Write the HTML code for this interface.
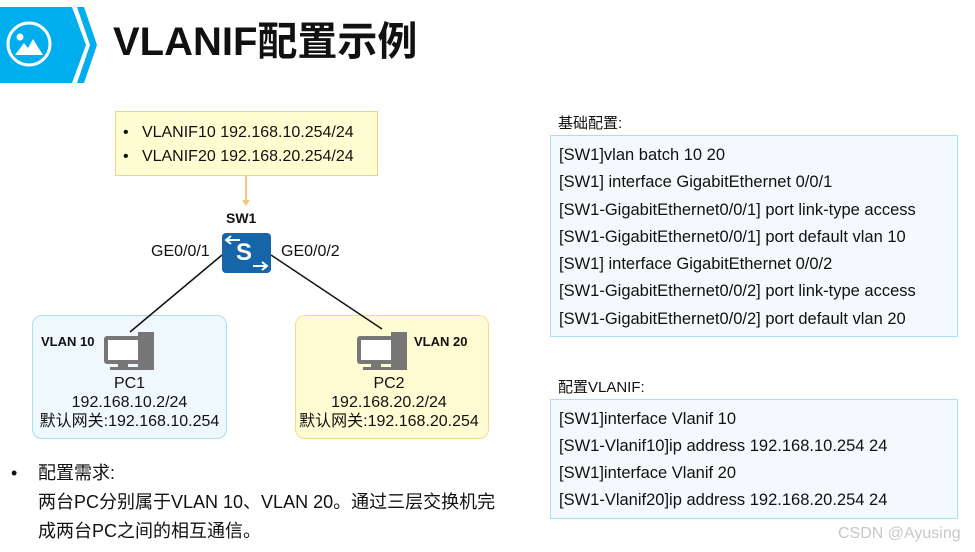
<!DOCTYPE html>
<html><head><meta charset="utf-8"><style>
body{margin:0;width:975px;height:552px;background:#fff;position:relative;overflow:hidden;font-family:"Liberation Sans","Noto Sans CJK SC",sans-serif;color:#111}
.a{position:absolute;white-space:nowrap}
.box{position:absolute;box-sizing:border-box}
.c{font-size:16.5px;line-height:27.3px}
</style></head><body>
<svg class="a" style="left:0;top:0" width="975" height="552">
<polygon points="0,7 72,7 86,45 72,83 0,83" fill="#00aeef"/>
<polygon points="77,7 84,7 97,45 84,83 77,83 90,45" fill="#00aeef"/>
<circle cx="29" cy="44" r="21" fill="none" stroke="#fff" stroke-width="3"/>
<circle cx="20" cy="37" r="3.5" fill="#fff"/>
<polygon points="15,55 24,43 28,48 33,39 43,55" fill="#fff"/>
<line x1="246" y1="176" x2="246" y2="202" stroke="#f9c77a" stroke-width="2"/>
<polygon points="242,200 250,200 246,206" fill="#f9c77a"/>
</svg>
<div class="a" style="left:113px;top:17px;font-size:40px;font-weight:bold;line-height:50px">VLANIF配置示例</div>
<div class="box" style="left:115px;top:111px;width:263px;height:65px;background:#fffdd2;border:1px solid #f6cf85"></div>
<div class="a" style="left:123px;top:121px;font-size:16px;line-height:24px">•&nbsp;&nbsp;&nbsp;VLANIF10 192.168.10.254/24<br>•&nbsp;&nbsp;&nbsp;VLANIF20 192.168.20.254/24</div>
<div class="a" style="left:226px;top:210px;font-size:14px;font-weight:bold">SW1</div>
<div class="a" style="left:151px;top:243px;font-size:16px">GE0/0/1</div>
<div class="a" style="left:281px;top:243px;font-size:16px">GE0/0/2</div>
<div class="box" style="left:32px;top:315px;width:195px;height:124px;background:#eef8fd;border:1px solid #a8dff3;border-radius:10px"></div>
<div class="box" style="left:295px;top:315px;width:194px;height:124px;background:#fffbd2;border:1px solid #f6d98e;border-radius:10px"></div>
<svg class="a" style="left:0;top:0" width="500" height="400">
<line x1="222" y1="255" x2="130" y2="332" stroke="#111" stroke-width="1.5"/>
<line x1="271" y1="255" x2="382" y2="329" stroke="#111" stroke-width="1.5"/>
</svg>
<div class="box" style="left:222px;top:233px;width:49px;height:40px;background:#1565a8;border-radius:4px"></div>
<div class="a" style="left:236px;top:236px;font-size:24px;font-weight:bold;color:#fff;line-height:34px">S</div>
<svg class="a" style="left:222px;top:233px" width="49" height="40"><path d="M18 7H5M9 3L4 7L9 11M31 33H45M40 29L45 33L40 37" stroke="#fff" stroke-width="2" fill="none"/></svg>
<svg class="a" style="left:104px;top:332px" width="52" height="40"><rect x="34" y="0" width="16" height="38" fill="#777"/><rect x="0" y="4" width="38" height="28" rx="3" fill="#777"/><rect x="4" y="8" width="30" height="20" fill="#fff"/><rect x="14" y="32" width="10" height="3" fill="#777"/><rect x="6" y="35" width="28" height="3" fill="#777"/></svg>
<svg class="a" style="left:357px;top:332px" width="52" height="40"><rect x="34" y="0" width="16" height="38" fill="#777"/><rect x="0" y="4" width="38" height="28" rx="3" fill="#777"/><rect x="4" y="8" width="30" height="20" fill="#fff"/><rect x="14" y="32" width="10" height="3" fill="#777"/><rect x="6" y="35" width="28" height="3" fill="#777"/></svg>
<div class="a" style="left:41px;top:334px;font-size:13px;font-weight:bold">VLAN 10</div>
<div class="a" style="left:414px;top:334px;font-size:13px;font-weight:bold">VLAN 20</div>
<div class="a" style="left:32px;top:374px;width:195px;text-align:center;font-size:16px;line-height:19px">PC1<br>192.168.10.2/24<br>默认网关:192.168.10.254</div>
<div class="a" style="left:292px;top:374px;width:194px;text-align:center;font-size:16px;line-height:19px">PC2<br>192.168.20.2/24<br>默认网关:192.168.20.254</div>
<div class="a" style="left:11px;top:459px;font-size:18px;line-height:29px">•</div>
<div class="a" style="left:38px;top:459px;font-size:18px;line-height:29px">配置需求:<br>两台PC分别属于VLAN 10、VLAN 20。通过三层交换机完<br>成两台PC之间的相互通信。</div>
<div class="a" style="left:558px;top:112px;font-size:15px">基础配置:</div>
<div class="box" style="left:550px;top:135px;width:408px;height:202px;background:#f3fafe;border:1px solid #a8dff3"></div>
<div class="a c" style="left:559px;top:142px">[SW1]vlan batch 10 20<br>[SW1] interface GigabitEthernet 0/0/1<br>[SW1-GigabitEthernet0/0/1] port link-type access<br>[SW1-GigabitEthernet0/0/1] port default vlan 10<br>[SW1] interface GigabitEthernet 0/0/2<br>[SW1-GigabitEthernet0/0/2] port link-type access<br>[SW1-GigabitEthernet0/0/2] port default vlan 20</div>
<div class="a" style="left:558px;top:376px;font-size:15px">配置VLANIF:</div>
<div class="box" style="left:550px;top:399px;width:408px;height:120px;background:#f3fafe;border:1px solid #a8dff3"></div>
<div class="a c" style="left:559px;top:406px;line-height:27px">[SW1]interface Vlanif 10<br>[SW1-Vlanif10]ip address 192.168.10.254 24<br>[SW1]interface Vlanif 20<br>[SW1-Vlanif20]ip address 192.168.20.254 24</div>
<div class="a" style="left:838px;top:525px;font-size:16px;color:#c8c8c8">CSDN @Ayusing</div>
</body></html>
